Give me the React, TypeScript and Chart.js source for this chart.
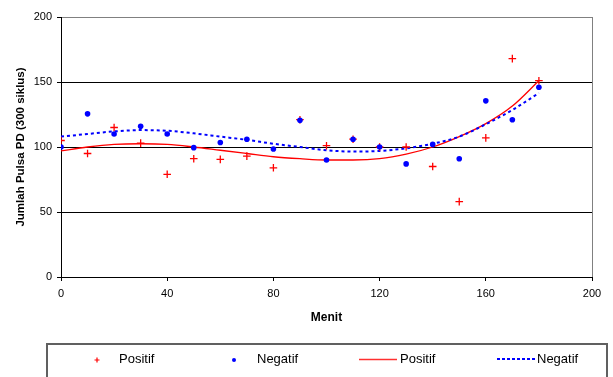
import React, { useEffect, useRef } from "react";
import { Chart, registerables } from "chart.js";

Chart.register(...registerables);

const minutes = [0, 10, 20, 30, 40, 50, 60, 70, 80, 90, 100, 110, 120, 130, 140, 150, 160, 170, 180];
const positif = [105, 95, 115, 103, 79, 91, 90.5, 93, 84, 121, 101, 106, 100, 100, 85, 58, 107, 168, 151];
const negatif = [100, 125.5, 110, 116, 110, 99.5, 103.5, 106, 98.5, 120.5, 90, 106, 100, 87, 102, 91, 135.5, 121, 146];
const positifTrend = [97, 100, 102, 102.5, 102, 100, 97.5, 95, 92.5, 91, 90, 90, 91, 94.5, 100, 108, 118, 131.5, 151];
const negatifTrend = [108, 110, 112, 113, 112.5, 110.5, 108, 105.5, 102.5, 100, 97.5, 96.5, 97, 99, 102.5, 108, 117.5, 128.5, 141.5];
const legendLabels = ["Positif", "Negatif", "Positif", "Negatif"];
const xTitle = "Menit";
const yTitle = "Jumlah Pulsa PD (300 siklus)";

const FONT = '"Liberation Sans", Arial, sans-serif';
const RED = "#FF0000";
const BLUE = "#0000FF";

const toXY = (ys: number[]) => ys.map((y, i) => ({ x: minutes[i], y }));

const legendPlugin = {
  id: "customLegend",
  afterDraw(chart: any) {
    const ctx = chart.ctx;
    ctx.save();
    ctx.strokeStyle = "#606060";
    ctx.lineWidth = 2;
    ctx.strokeRect(47, 344, 560, 40);
    ctx.font = "13px " + FONT;
    ctx.textBaseline = "middle";
    const ty = 359;
    // item 1: red cross
    ctx.strokeStyle = RED;
    ctx.lineWidth = 1.2;
    ctx.beginPath();
    ctx.moveTo(94.5, 360);
    ctx.lineTo(99.5, 360);
    ctx.moveTo(97, 357.5);
    ctx.lineTo(97, 362.5);
    ctx.stroke();
    ctx.fillStyle = "#000";
    ctx.fillText(legendLabels[0], 119, ty);
    // item 2: blue dot
    ctx.fillStyle = BLUE;
    ctx.beginPath();
    ctx.arc(234, 360, 2, 0, Math.PI * 2);
    ctx.fill();
    ctx.fillStyle = "#000";
    ctx.fillText(legendLabels[1], 257, ty);
    // item 3: red line
    ctx.strokeStyle = "#FF3030";
    ctx.lineWidth = 1.6;
    ctx.beginPath();
    ctx.moveTo(359, 359.5);
    ctx.lineTo(397, 359.5);
    ctx.stroke();
    ctx.fillStyle = "#000";
    ctx.fillText(legendLabels[2], 400, ty);
    // item 4: blue dotted line
    ctx.strokeStyle = BLUE;
    ctx.lineWidth = 2;
    ctx.setLineDash([3, 2]);
    ctx.beginPath();
    ctx.moveTo(497, 359);
    ctx.lineTo(537, 359);
    ctx.stroke();
    ctx.setLineDash([]);
    ctx.fillStyle = "#000";
    ctx.fillText(legendLabels[3], 537, ty);
    ctx.restore();
  },
};

export default function App() {
  const ref = useRef<HTMLCanvasElement>(null);
  useEffect(() => {
    if (!ref.current) return;
    Chart.defaults.font.family = FONT;
    Chart.defaults.color = "#000";
    const chart = new Chart(ref.current, {
      type: "scatter",
      data: {
        datasets: [
          {
            type: "line",
            label: "Positif trend",
            data: toXY(positifTrend),
            borderColor: RED,
            borderWidth: 1.3,
            pointRadius: 0,
            cubicInterpolationMode: "monotone",
            fill: false,
            order: 3,
          },
          {
            type: "line",
            label: "Negatif trend",
            data: toXY(negatifTrend),
            borderColor: BLUE,
            borderWidth: 2,
            borderDash: [3, 3],
            pointRadius: 0,
            cubicInterpolationMode: "monotone",
            fill: false,
            order: 2,
          },
          {
            label: "Positif",
            data: toXY(positif),
            pointStyle: "cross",
            pointRadius: 3.8,
            borderColor: RED,
            backgroundColor: RED,
            borderWidth: 1.3,
            order: 1,
          },
          {
            label: "Negatif",
            data: toXY(negatif),
            pointStyle: "circle",
            pointRadius: 2.8,
            borderWidth: 0,
            backgroundColor: BLUE,
            borderColor: BLUE,
            order: 0,
          },
        ],
      } as any,
      options: {
        animation: false,
        responsive: false,
        layout: { padding: { top: 17, right: 21, left: 0, bottom: 0 } },
        plugins: { legend: { display: false }, tooltip: { enabled: false } },
        scales: {
          x: {
            type: "linear",
            min: 0,
            max: 200,
            afterFit: (s: any) => {
              s.height = 100;
            },
            ticks: { stepSize: 40, font: { size: 11 }, padding: 6, color: "#000" },
            grid: {
              color: (c: any) => (c.tick && c.tick.value === 200 ? "#808080" : "rgba(0,0,0,0)"),
              tickColor: "#000",
              tickLength: 4,
              lineWidth: 1,
            },
            border: { color: "#000", width: 1 },
            title: {
              display: true,
              text: xTitle,
              font: { size: 12, weight: "bold" },
              padding: { top: 0, bottom: 52 },
              color: "#000",
            },
          },
          y: {
            type: "linear",
            min: 0,
            max: 200,
            afterFit: (s: any) => {
              s.width = 61;
            },
            ticks: { stepSize: 50, font: { size: 11 }, padding: 5, color: "#000" },
            grid: {
              color: (c: any) => (c.tick && c.tick.value === 200 ? "#808080" : "#000"),
              tickColor: "#000",
              tickLength: 4,
              lineWidth: 1,
            },
            border: { color: "#000", width: 1 },
            title: {
              display: true,
              text: yTitle,
              font: { size: 11.5, weight: "bold" },
              padding: { top: 14, bottom: 0 },
              color: "#000",
            },
          },
        },
      } as any,
      plugins: [legendPlugin],
    });
    return () => chart.destroy();
  }, []);
  return (
    <div style={{ position: "absolute", left: 0, top: 0, width: 613, height: 377, background: "#fff" }}>
      <canvas ref={ref} width={613} height={377} />
    </div>
  );
}
